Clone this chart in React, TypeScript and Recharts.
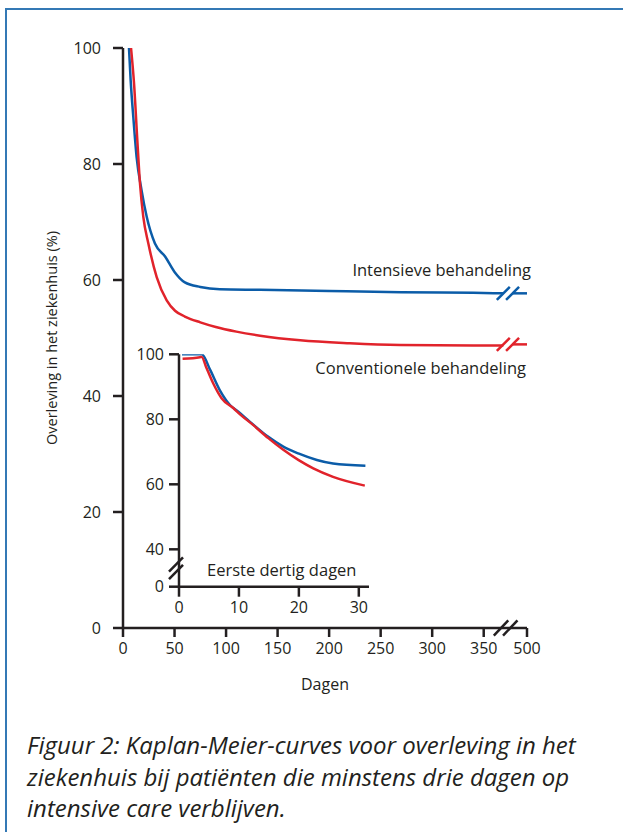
import { LineChart, Line, XAxis, YAxis, ReferenceLine } from 'recharts';

const BLUE = '#0b5ca8';
const RED = '#e1232b';
const INK = '#231f20';
const FRAME = '#3479b5';
const FONT = '"Open Sans", "Noto Sans", sans-serif';

// main chart: days vs survival in hospital (%)
const blueDays = [5.8, 7.4, 10, 13.2, 18, 23, 31, 41, 50, 60, 75, 94, 133, 200, 270, 340, 418, 450, 500];
const blueSurv = [100, 94.5, 88.1, 81.2, 75.5, 70.9, 66.3, 64.0, 61.4, 59.6, 58.8, 58.4, 58.3, 58.1, 57.9, 57.8, 57.7, 57.7, 57.7];
const redDays = [7.8, 10.7, 13.9, 16.5, 19.7, 24.6, 32.7, 42.4, 50.5, 60, 75, 90, 110, 133, 172, 220, 269, 340, 418, 450, 500];
const redSurv = [100, 93.9, 84.1, 76.6, 70.9, 66.3, 60.5, 56.5, 54.7, 53.7, 52.7, 51.9, 51.1, 50.4, 49.6, 49.1, 48.8, 48.7, 48.7, 48.9, 48.9];
const mainXTicks = [0, 50, 100, 150, 200, 250, 300, 350, 500];
const mainYTicks = [0, 20, 40, 60, 80, 100];

// inset: first thirty days
const blueInsetDays = [0.5, 3.8, 5.2, 6.8, 8.5, 9.9, 11.8, 14.9, 17.4, 19.9, 23, 25.7, 31.1];
const blueInsetSurv = [100, 100, 95.2, 89, 84.4, 82.3, 79.3, 74.6, 71.6, 69.5, 67.5, 66.4, 65.7];
const redInsetDays = [0.6, 3.5, 3.8, 4.5, 5.7, 7.1, 9.1, 9.9, 12.4, 14.9, 17.4, 19.9, 22.4, 25.7, 31];
const redInsetSurv = [98.6, 99.1, 99.2, 96.2, 91.1, 86.5, 83.4, 82, 78.2, 74.2, 70.6, 67.5, 64.9, 62.3, 59.6];
const insetXTicks = [0, 10, 20, 30];
const insetYTicks = [28.5, 40, 60, 80, 100];

// broken x axis: everything past 350 days is squeezed
const BREAK_FROM = 418;
const BREAK_TO = 450;
const breakX = (d: number) => (d <= 350 ? d : 350 + (d - 350) * 0.28);

const toPts = (xs: number[], ys: number[]) => xs.map((d, i) => ({ x: breakX(d), y: ys[i] }));
const before = (xs: number[], ys: number[]) => toPts(xs, ys).filter((_, i) => xs[i] <= BREAK_FROM);
const after = (xs: number[], ys: number[]) => toPts(xs, ys).filter((_, i) => xs[i] >= BREAK_TO);
const plain = (xs: number[], ys: number[]) => xs.map((d, i) => ({ x: d, y: ys[i] }));

const axisStroke = { stroke: INK, strokeWidth: 2.5 };
const tickStyle = { fill: INK, fontSize: 16, fontFamily: FONT };

// two short slanted strokes centred on (cx, cy)
function breakSegs(cx: number, cy: number, dx: number, dy: number) {
  return [
    { x: cx - dx, y: cy - dy },
    { x: cx + dx, y: cy + dy },
  ];
}

const note = { position: 'absolute' as const, fontSize: 16.5, lineHeight: '20px', whiteSpace: 'nowrap' as const };

export default function App() {
  const xMax = breakX(500);
  const blueMark = blueSurv[blueSurv.length - 1];
  const redMark = redSurv[redSurv.length - 1];
  return (
    <div style={{ position: 'absolute', left: 0, top: 0, width: 623, height: 832, overflow: 'hidden', background: '#fff', fontFamily: FONT, color: INK }}>
      <div style={{ position: 'absolute', left: 5, top: 8, width: 700, height: 900, borderTop: `2.5px solid ${FRAME}`, borderLeft: `2.5px solid ${FRAME}` }} />

      <div style={{ position: 'absolute', left: 0, top: 0 }}>
        <LineChart width={623} height={720} margin={{ top: 48, right: 96, bottom: 62, left: 43 }}>
          <XAxis
            type="number"
            dataKey="x"
            domain={[0, xMax]}
            ticks={mainXTicks.map(breakX)}
            tickFormatter={(v: number) => (v > 360 ? '500' : String(v))}
            axisLine={axisStroke}
            tickLine={axisStroke}
            tickSize={9}
            tickMargin={6}
            tick={tickStyle}
            height={30}
            allowDataOverflow
            label={{ value: 'Dagen', position: 'bottom', offset: 21, style: { fill: INK, fontSize: 16, fontFamily: FONT } }}
          />
          <YAxis
            type="number"
            domain={[0, 100]}
            ticks={mainYTicks}
            axisLine={axisStroke}
            tickLine={axisStroke}
            tickSize={10}
            tickMargin={12}
            tick={tickStyle}
            width={80}
            label={{
              value: 'Overleving in het ziekenhuis (%)',
              angle: -90,
              position: 'insideLeft',
              offset: 9,
              style: { textAnchor: 'middle', fill: INK, fontSize: 14.5, fontFamily: FONT },
            }}
          />
          <Line data={before(blueDays, blueSurv)} dataKey="y" type="monotone" stroke={BLUE} strokeWidth={2.5} dot={false} isAnimationActive={false} />
          <Line data={after(blueDays, blueSurv)} dataKey="y" type="monotone" stroke={BLUE} strokeWidth={2.5} dot={false} isAnimationActive={false} />
          <Line data={before(redDays, redSurv)} dataKey="y" type="monotone" stroke={RED} strokeWidth={2.5} dot={false} isAnimationActive={false} />
          <Line data={after(redDays, redSurv)} dataKey="y" type="monotone" stroke={RED} strokeWidth={2.5} dot={false} isAnimationActive={false} />
          {[BREAK_FROM, BREAK_TO].map((d) => (
            <ReferenceLine key={'b' + d} segment={breakSegs(breakX(d), blueMark, 6.3, 1.12)} stroke={BLUE} strokeWidth={2.5} ifOverflow="visible" />
          ))}
          {[BREAK_FROM, BREAK_TO].map((d) => (
            <ReferenceLine key={'r' + d} segment={breakSegs(breakX(d), redMark, 6.3, 1.12)} stroke={RED} strokeWidth={2.5} ifOverflow="visible" />
          ))}
          {[BREAK_FROM - 8, BREAK_TO - 8].map((d) => (
            <ReferenceLine key={'a' + d} segment={breakSegs(breakX(d), 0, 7, 1.3)} stroke={INK} strokeWidth={2.5} ifOverflow="visible" />
          ))}
        </LineChart>
      </div>

      <div style={{ position: 'absolute', left: 100, top: 330 }}>
        <LineChart width={290} height={300} margin={{ top: 24.3, right: 21, bottom: 18.3, left: 39 }}>
          <XAxis
            type="number"
            dataKey="x"
            domain={[0, 31.7]}
            ticks={insetXTicks}
            axisLine={axisStroke}
            tickLine={axisStroke}
            tickSize={10}
            tickMargin={5}
            tick={tickStyle}
            height={25}
          />
          <YAxis
            type="number"
            domain={[28.5, 100]}
            ticks={insetYTicks}
            tickFormatter={(v: number) => (v < 40 ? '0' : String(v))}
            axisLine={axisStroke}
            tickLine={axisStroke}
            tickSize={10}
            tickMargin={5}
            tick={tickStyle}
            width={40}
            allowDataOverflow
          />
          <Line data={plain(blueInsetDays, blueInsetSurv)} dataKey="y" type="monotone" stroke={BLUE} strokeWidth={2.5} dot={false} isAnimationActive={false} />
          <Line data={plain(redInsetDays, redInsetSurv)} dataKey="y" type="monotone" stroke={RED} strokeWidth={2.5} dot={false} isAnimationActive={false} />
          {[35.3, 33].map((v) => (
            <ReferenceLine key={'i' + v} segment={breakSegs(-0.5, v, 1.17, 2.2)} stroke={INK} strokeWidth={2.5} ifOverflow="visible" />
          ))}
        </LineChart>
      </div>

      <div style={{ ...note, right: 92, top: 260 }}>Intensieve behandeling</div>
      <div style={{ ...note, right: 97, top: 358 }}>Conventionele behandeling</div>
      <div style={{ ...note, left: 207, top: 560 }}>Eerste dertig dagen</div>

      <div style={{ position: 'absolute', left: 27, top: 729, fontSize: 24, lineHeight: '31.5px', fontStyle: 'italic', whiteSpace: 'nowrap' }}>
        Figuur 2: Kaplan-Meier-curves voor overleving in het
        <br />
        ziekenhuis bij patiënten die minstens drie dagen op
        <br />
        intensive care verblijven.
      </div>
    </div>
  );
}
